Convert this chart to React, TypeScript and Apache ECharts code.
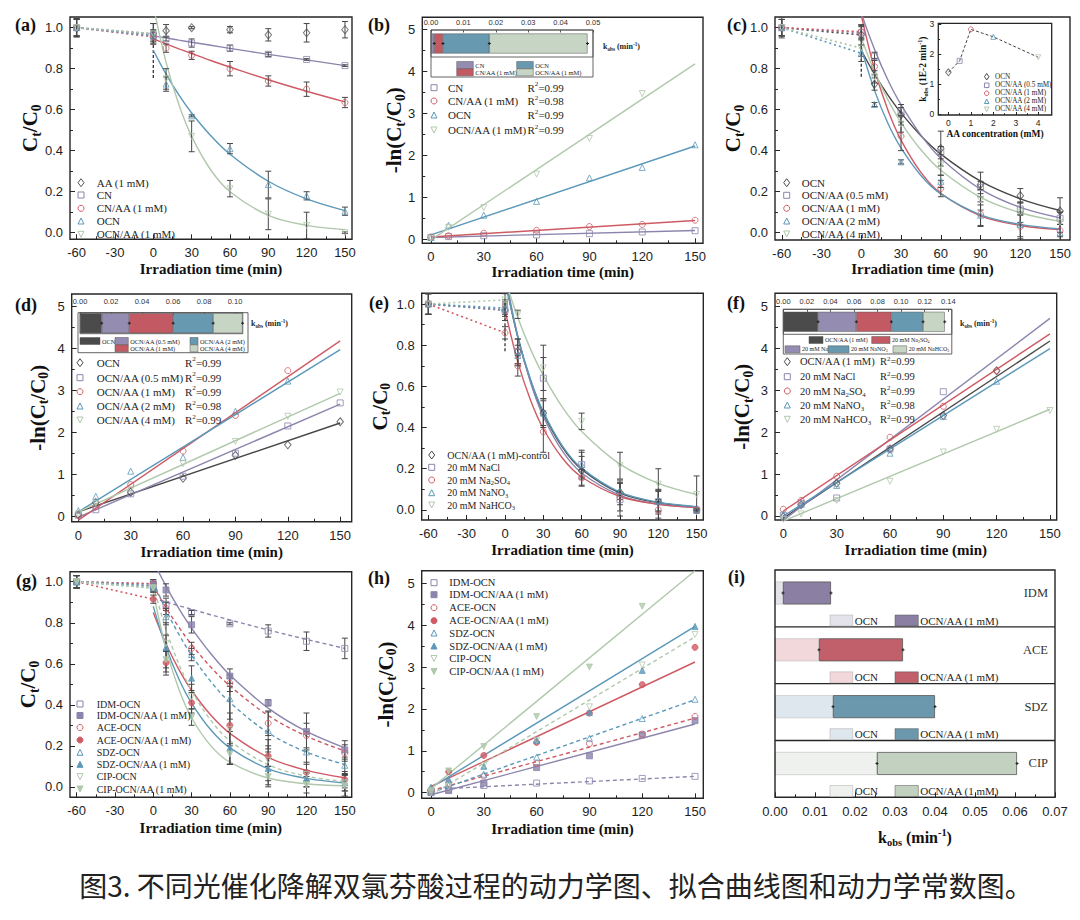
import React, { useEffect, useRef } from "react";
import * as echarts from "echarts";

// ---------------- fonts & colours ----------------
const SERIF = '"Liberation Serif", "Times New Roman", serif';
const SANS = '"Liberation Sans", Arial, sans-serif';
const CJK = '"Noto Sans CJK SC", sans-serif';
const AX = "#262626";
const COL = { gray: "#555555", dark: "#474747", purple: "#8b85ad", red: "#cf5a64", blue: "#5b98b9", green: "#b0c8ab" };
const BAR = { dark: "#4b4b4b", purple: "#958db1", red: "#c35a63", blue: "#6799b1", green: "#c7d5c5" };

// ---------------- shared axes / times ----------------
const T_FULL = [-60, 0, 10, 30, 60, 90, 120, 150];
const T_LIN = [0, 10, 30, 60, 90, 120, 150];
const FIT_T = [0, 10, 20, 30, 45, 60, 90, 120, 150];
const LIN_T = [0, 150];
const X_TICKS_FULL = [-60, -30, 0, 30, 60, 90, 120, 150];
const X_MINOR_FULL = [-45, -15, 15, 45, 75, 105, 135];
const X_TICKS_LIN = [0, 30, 60, 90, 120, 150];
const X_MINOR_LIN = [15, 45, 75, 105, 135];
const Y_TICKS_C = [0, 0.2, 0.4, 0.6, 0.8, 1.0];
const Y_MINOR_C = [0.1, 0.3, 0.5, 0.7, 0.9];
const Y_TICKS_LN = [0, 1, 2, 3, 4, 5];
const Y_MINOR_LN = [0.5, 1.5, 2.5, 3.5, 4.5];
const X_TITLE = "Irradiation time (min)";
const CAPTION = "图3. 不同光催化降解双氯芬酸过程的动力学图、拟合曲线图和动力学常数图。";

// ---------------- (a) ----------------
const A_NAMES = ["AA (1 mM)", "CN", "CN/AA (1 mM)", "OCN", "OCN/AA (1 mM)"];
const A_AA = [1.0, 0.97, 0.985, 1.0, 0.99, 0.965, 0.975, 0.99];
const A_AA_ERR = [0.045, 0.05, 0.03, 0.005, 0.015, 0.03, 0.045, 0.04];
const A_CN = [1.0, 0.965, 0.945, 0.925, 0.9, 0.87, 0.845, 0.815];
const A_CN_ERR = [0.045, 0.02, 0.01, 0.02, 0.015, 0.01, 0.004, 0.004];
const A_CNAA = [1.0, 0.955, 0.9, 0.865, 0.8, 0.74, 0.7, 0.635];
const A_CNAA_ERR = [0.04, 0.02, 0.02, 0.02, 0.035, 0.025, 0.035, 0.025];
const A_OCN = [1.0, 0.96, 0.725, 0.57, 0.41, 0.235, 0.18, 0.105];
const A_OCN_ERR = [0.04, 0.03, 0.035, 0.005, 0.025, 0.065, 0.02, 0.02];
const A_OCNAA = [1.0, 0.97, 0.75, 0.47, 0.215, 0.09, 0.035, 0.0];
const A_OCNAA_ERR = [0.04, 0.05, 0.05, 0.075, 0.04, 0.075, 0.065, 0.004];
const A_CN_FIT = [0.96, 0.95, 0.939, 0.929, 0.914, 0.899, 0.87, 0.843, 0.815];
const A_CNAA_FIT = [0.945, 0.921, 0.897, 0.874, 0.84, 0.808, 0.746, 0.69, 0.638];
const A_OCN_FIT = [0.89, 0.773, 0.672, 0.584, 0.473, 0.383, 0.251, 0.165, 0.108];
const A_OCNAA_FIT = [1.105, 0.831, 0.625, 0.47, 0.306, 0.2, 0.085, 0.036, 0.015];
const A_VLINE = [0.755, 1.0];

// ---------------- (b) ----------------
const B_NAMES = ["CN", "CN/AA (1 mM)", "OCN", "OCN/AA (1 mM)"];
const B_R2 = [0.99, 0.98, 0.99, 0.99];
const B_CN = [0.04, 0.06, 0.08, 0.1, 0.13, 0.17, 0.2];
const B_CNAA = [0.05, 0.08, 0.14, 0.21, 0.3, 0.35, 0.45];
const B_OCN = [0.04, 0.33, 0.57, 0.9, 1.46, 1.71, 2.25];
const B_OCNAA = [0.02, 0.28, 0.75, 1.55, 2.4, 3.47];
const B_CN_FIT = [0.04, 0.205];
const B_CNAA_FIT = [0.05, 0.445];
const B_OCN_FIT = [0.1, 2.22];
const B_OCNAA_FIT = [-0.02, 4.18];
const B_K = [0.001, 0.0027, 0.0143, 0.0303];
const B_K_TICKS = [0, 0.01, 0.02, 0.03, 0.04, 0.05];

// ---------------- (c) ----------------
const C_NAMES = ["OCN", "OCN/AA (0.5 mM)", "OCN/AA (1 mM)", "OCN/AA (2 mM)", "OCN/AA (4 mM)"];
const C_OCN = [1.0, 0.965, 0.725, 0.575, 0.41, 0.235, 0.18, 0.105];
const C_OCN_ERR = [0.04, 0.05, 0.03, 0.05, 0.085, 0.06, 0.035, 0.065];
const C_05 = [1.0, 0.975, 0.86, 0.59, 0.39, 0.22, 0.115, 0.07];
const C_05_ERR = [0.04, 0.03, 0.02, 0.02, 0.03, 0.03, 0.03, 0.03];
const C_1 = [1.0, 0.98, 0.81, 0.47, 0.215, 0.09, 0.03, 0.01];
const C_1_ERR = [0.04, 0.03, 0.04, 0.07, 0.04, 0.06, 0.06, 0.03];
const C_2 = [1.0, 0.875, 0.625, 0.345, 0.25, 0.085, 0.04, 0.0];
const C_2_ERR = [0.05, 0.04, 0.01, 0.01, 0.03, 0.05, 0.06, 0.04];
const C_4 = [1.0, 0.9, 0.76, 0.53, 0.33, 0.16, 0.1, 0.05];
const C_4_ERR = [0.04, 0.04, 0.03, 0.04, 0.05, 0.05, 0.05, 0.05];
const C_OCN_FIT = [0.89, 0.773, 0.672, 0.584, 0.473, 0.383, 0.251, 0.165, 0.108];
const C_05_FIT = [1.07, 0.894, 0.746, 0.624, 0.476, 0.363, 0.212, 0.123, 0.072];
const C_1_FIT = [1.06, 0.797, 0.599, 0.451, 0.294, 0.192, 0.082, 0.035, 0.015];
const C_2_FIT = [0.9, 0.694, 0.535, 0.413, 0.279, 0.189, 0.087, 0.04, 0.018];
const C_4_FIT = [0.95, 0.786, 0.65, 0.537, 0.404, 0.304, 0.172, 0.097, 0.055];
const C_VLINE = [0.76, 0.99];
const C_AA_CONC = [0, 0.5, 1, 2, 4];
const C_INSET_K = [1.4, 1.78, 2.83, 2.58, 1.9];

// ---------------- (d) ----------------
const D_R2 = [0.99, 0.99, 0.99, 0.98, 0.99];
const D_OCN = [0.03, 0.32, 0.57, 0.9, 1.45, 1.7, 2.25];
const D_05 = [0.02, 0.15, 0.53, 0.95, 1.5, 2.15, 2.7];
const D_1 = [0.02, 0.22, 0.75, 1.55, 2.4, 3.47];
const D_2 = [0.13, 0.47, 1.07, 1.4, 2.5, 3.22];
const D_4 = [0.05, 0.3, 0.62, 1.25, 1.78, 2.38, 2.96];
const D_OCN_FIT = [0.1, 2.22];
const D_05_FIT = [-0.03, 2.67];
const D_1_FIT = [-0.1, 4.18];
const D_2_FIT = [0.1, 3.97];
const D_4_FIT = [0.1, 2.93];
const D_K = [0.014, 0.0178, 0.0283, 0.0258, 0.019];
const D_K_TICKS = [0, 0.02, 0.04, 0.06, 0.08, 0.1];

// ---------------- (e) ----------------
const E_NAMES = ["OCN/AA (1 mM)-control", "20 mM NaCl", "20 mM Na{s|2}SO{s|4}", "20 mM NaNO{s|3}", "20 mM NaHCO{s|3}"];
const E_CTRL = [1.0, 0.97, 0.77, 0.47, 0.19, 0.085, 0.04, 0.0];
const E_CTRL_ERR = [0.05, 0.05, 0.06, 0.07, 0.07, 0.06, 0.06, 0.004];
const E_NACL = [1.0, 0.97, 0.77, 0.64, 0.22, 0.05, 0.04, 0.0];
const E_NACL_ERR = [0.05, 0.03, 0.06, 0.1, 0.06, 0.08, 0.05, 0.005];
const E_NA2SO4 = [1.0, 0.86, 0.7, 0.38, 0.155, 0.065, 0.0, 0.0];
const E_NA2SO4_ERR = [0.05, 0.03, 0.05, 0.1, 0.04, 0.07, 0.04, 0.004];
const E_NANO3 = [1.0, 0.98, 0.75, 0.47, 0.22, 0.09, 0.045, 0.0];
const E_NANO3_ERR = [0.05, 0.03, 0.05, 0.06, 0.07, 0.04, 0.05, 0.004];
const E_NAHCO3 = [1.0, 1.02, 0.95, 0.69, 0.43, 0.215, 0.125, 0.075];
const E_NAHCO3_ERR = [0.05, 0.03, 0.02, 0.11, 0.04, 0.065, 0.075, 0.09];
const E_CTRL_FIT = [1.12, 0.838, 0.627, 0.469, 0.304, 0.197, 0.082, 0.035, 0.014];
const E_NACL_FIT = [1.15, 0.843, 0.619, 0.454, 0.285, 0.179, 0.071, 0.028, 0.011];
const E_NA2SO4_FIT = [0.97, 0.719, 0.533, 0.394, 0.251, 0.16, 0.065, 0.027, 0.011];
const E_NANO3_FIT = [1.12, 0.842, 0.633, 0.476, 0.31, 0.203, 0.086, 0.037, 0.016];
const E_NAHCO3_FIT = [1.12, 0.935, 0.781, 0.653, 0.498, 0.381, 0.222, 0.129, 0.075];
const E_VLINE = [0.77, 0.97];

// ---------------- (f) ----------------
const F_NAMES = ["OCN/AA (1 mM)", "20 mM NaCl", "20 mM Na{s|2}SO{s|4}", "20 mM NaNO{s|3}", "20 mM NaHCO{s|3}"];
const F_R2 = [0.99, 0.99, 0.99, 0.98, 0.99];
const F_CTRL = [-0.02, 0.27, 0.78, 1.6, 2.4, 3.47];
const F_NACL = [0.02, 0.3, 0.43, 1.6, 2.97];
const F_NA2SO4 = [0.16, 0.37, 0.95, 1.88, 2.62, 3.47];
const F_NANO3 = [0.05, 0.28, 0.73, 1.5, 2.38, 3.22];
const F_NAHCO3 = [-0.08, 0.05, 0.37, 0.83, 1.53, 2.07, 2.52];
const F_CTRL_FIT = [-0.05, 4.18];
const F_NACL_FIT = [-0.1, 4.72];
const F_NA2SO4_FIT = [0.12, 4.35];
const F_NANO3_FIT = [0.0, 4.0];
const F_NAHCO3_FIT = [-0.12, 2.55];
const F_K = [0.0295, 0.0325, 0.0297, 0.0269, 0.0184];
const F_K_TICKS = [0, 0.02, 0.04, 0.06, 0.08, 0.1, 0.12, 0.14];

// ---------------- (g) ----------------
const G_NAMES = ["IDM-OCN", "IDM-OCN/AA (1 mM)", "ACE-OCN", "ACE-OCN/AA (1 mM)", "SDZ-OCN", "SDZ-OCN/AA (1 mM)", "CIP-OCN", "CIP-OCN/AA (1 mM)"];
const G_IDM = [1.0, 0.98, 0.89, 0.85, 0.795, 0.76, 0.71, 0.675];
const G_IDM_ERR = [0.03, 0.02, 0.03, 0.01, 0.005, 0.03, 0.045, 0.05];
const G_IDM_AA = [1.0, 0.99, 0.96, 0.79, 0.54, 0.41, 0.27, 0.18];
const G_IDM_AA_ERR = [0.03, 0.02, 0.03, 0.04, 0.035, 0.015, 0.09, 0.045];
const G_ACE = [1.0, 0.99, 0.87, 0.675, 0.505, 0.31, 0.25, 0.165];
const G_ACE_ERR = [0.03, 0.02, 0.03, 0.03, 0.04, 0.06, 0.06, 0.04];
const G_ACE_AA = [1.0, 0.915, 0.605, 0.41, 0.3, 0.15, 0.07, 0.035];
const G_ACE_AA_ERR = [0.03, 0.02, 0.06, 0.05, 0.19, 0.05, 0.04, 0.04];
const G_SDZ = [1.0, 0.97, 0.83, 0.645, 0.43, 0.275, 0.17, 0.105];
const G_SDZ_ERR = [0.03, 0.02, 0.04, 0.03, 0.1, 0.09, 0.1, 0.04];
const G_SDZ_AA = [1.0, 0.98, 0.68, 0.53, 0.19, 0.09, 0.04, 0.02];
const G_SDZ_AA_ERR = [0.03, 0.02, 0.12, 0.06, 0.08, 0.08, 0.04, 0.04];
const G_CIP = [1.0, 0.97, 0.7, 0.44, 0.28, 0.13, 0.06, 0.02];
const G_CIP_ERR = [0.03, 0.02, 0.04, 0.06, 0.08, 0.1, 0.06, 0.04];
const G_CIP_AA = [1.0, 0.97, 0.62, 0.34, 0.16, 0.05, 0.01, 0.005];
const G_CIP_AA_ERR = [0.03, 0.02, 0.04, 0.04, 0.05, 0.05, 0.04, 0.05];
const G_IDM_FIT = [0.92, 0.901, 0.883, 0.866, 0.839, 0.814, 0.765, 0.719, 0.675];
const G_IDM_AA_FIT = [1.1, 0.979, 0.87, 0.774, 0.65, 0.545, 0.384, 0.27, 0.19];
const G_ACE_FIT = [0.98, 0.873, 0.779, 0.694, 0.584, 0.492, 0.348, 0.247, 0.175];
const G_ACE_AA_FIT = [0.85, 0.698, 0.573, 0.471, 0.35, 0.261, 0.144, 0.08, 0.044];
const G_SDZ_FIT = [1.0, 0.862, 0.744, 0.642, 0.514, 0.412, 0.264, 0.169, 0.109];
const G_SDZ_AA_FIT = [0.88, 0.681, 0.527, 0.408, 0.278, 0.19, 0.088, 0.041, 0.019];
const G_CIP_FIT = [0.98, 0.767, 0.6, 0.47, 0.325, 0.225, 0.108, 0.052, 0.025];
const G_CIP_AA_FIT = [0.95, 0.673, 0.477, 0.337, 0.201, 0.12, 0.043, 0.015, 0.005];

// ---------------- (h) ----------------
const H_IDM = [0.02, 0.07, 0.17, 0.23, 0.28, 0.34, 0.39];
const H_IDM_AA = [0.0, 0.05, 0.23, 0.6, 0.88, 1.38, 1.72];
const H_ACE = [0.05, 0.22, 0.4, 0.7, 1.17, 1.4, 1.82];
const H_ACE_AA = [0.08, 0.5, 0.89, 1.2, 1.9, 2.58, 3.47];
const H_SDZ = [0.03, 0.18, 0.44, 0.85, 1.3, 1.77, 2.23];
const H_SDZ_AA = [0.13, 0.32, 0.63, 1.25, 1.92, 2.92, 3.97];
const H_CIP = [0.0, 0.15, 0.65, 1.25, 2.05, 3.05, 3.78];
const H_CIP_AA = [0.05, 0.52, 1.1, 1.82, 3.0, 4.45];
const H_IDM_FIT = [0.08, 0.39];
const H_IDM_AA_FIT = [-0.05, 1.64];
const H_ACE_FIT = [0.05, 1.78];
const H_ACE_AA_FIT = [0.15, 3.12];
const H_SDZ_FIT = [0.0, 2.22];
const H_SDZ_AA_FIT = [0.12, 3.97];
const H_CIP_FIT = [-0.05, 3.72];
const H_CIP_AA_FIT = [0.1, 5.3];

// ---------------- (i) ----------------
const I_CATS = ["IDM", "ACE", "SDZ", "CIP"];
const I_K_OCN = [0.002, 0.011, 0.0145, 0.0255];
const I_K_AA = [0.012, 0.021, 0.0255, 0.035];
const I_TICKS = [0, 0.01, 0.02, 0.03, 0.04, 0.05, 0.06, 0.07];
const I_MINOR = [0.005, 0.015, 0.025, 0.035, 0.045, 0.055, 0.065];
const I_LIGHT = ["#e4e2ea", "#f3d8db", "#dfe7ee", "#eef1ee"];
const I_DARK = ["#8b80a3", "#c1606a", "#6c98ae", "#c3d1c1"];
const I_LEG = ["OCN", "OCN/AA (1 mM)"];

function buildOption() {
  const grid: any[] = [], xAxis: any[] = [], yAxis: any[] = [], series: any[] = [], els: any[] = [];

  const nameStyle = (fs: number) => ({
    fontFamily: SERIF, fontWeight: "bold", fontSize: fs, color: "#111", lineHeight: fs * 1.25,
    rich: {
      s: { fontFamily: SERIF, fontWeight: "bold", fontSize: fs * 0.65, color: "#111", verticalAlign: "bottom", lineHeight: fs * 0.7 },
      u: { fontFamily: SERIF, fontWeight: "bold", fontSize: fs * 0.65, color: "#111", verticalAlign: "top", lineHeight: fs * 0.7 },
    },
  });

  function addAxes(gi: number, c: any, dir: string) {
    const arr = dir === "x" ? xAxis : yAxis;
    const idx = arr.length;
    const common = { gridIndex: gi, type: "value", min: c.min, max: c.max, position: c.pos, splitLine: { show: false }, axisLine: { show: false, onZero: false } };
    arr.push({
      ...common,
      axisTick: { show: true, inside: true, length: c.tl ?? 5, customValues: c.ticks, lineStyle: { color: AX, width: 1 } },
      axisLabel: { show: true, customValues: c.ticks, formatter: c.fmt, margin: c.margin ?? 7, fontFamily: SANS, fontSize: c.fs ?? 13, color: "#1e1e1e" },
      name: c.name ?? "", nameLocation: "middle", nameGap: c.gap ?? 20, nameRotate: dir === "y" ? 90 : 0, nameMoveOverlap: false,
      nameTextStyle: nameStyle(c.nfs ?? 15),
    });
    if (c.minor) arr.push({ ...common, axisTick: { show: true, inside: true, length: (c.tl ?? 5) * 0.6, customValues: c.minor, lineStyle: { color: AX, width: 1 } }, axisLabel: { show: false } });
    return idx;
  }

  function panel(box: number[], xc: any, yc: any, bg = "transparent", bw = 1.4) {
    const gi = grid.length;
    grid.push({ left: box[0], top: box[1], width: box[2] - box[0], height: box[3] - box[1], show: true, borderColor: AX, borderWidth: bw, backgroundColor: bg, containLabel: false, outerBoundsMode: "none" });
    const xi = addAxes(gi, { pos: "bottom", ...xc }, "x");
    const yi = addAxes(gi, { pos: "left", ...yc }, "y");
    return { xi, yi };
  }

  const pts = (xs: number[], ys: number[]) => ys.map((y, i) => [xs[i], y]);
  const symOf = (s: string) => (s === "tri" || s === "triDown" ? "triangle" : s);
  const rotOf = (s: string) => (s === "triDown" ? 180 : 0);

  function line(ax: any, xs: number[], ys: number[], color: string, type: any = "solid", width = 1.4, smooth = false) {
    series.push({ type: "line", xAxisIndex: ax.xi, yAxisIndex: ax.yi, data: pts(xs, ys), showSymbol: false, symbol: "none", smooth: smooth ? 0.35 : false, lineStyle: { color, width, type }, silent: true, z: 3, clip: true });
  }
  function scat(ax: any, xs: number[], ys: number[], sp: any, size = 6) {
    series.push({
      type: "scatter", xAxisIndex: ax.xi, yAxisIndex: ax.yi, data: pts(xs, ys), symbol: symOf(sp.sym), symbolRotate: rotOf(sp.sym),
      symbolSize: sp.sym === "diamond" ? [size + 0.5, size + 2] : size,
      itemStyle: { color: sp.filled ? sp.color : "rgba(255,255,255,0)", borderColor: sp.color, borderWidth: 1 }, silent: true, z: 5,
    });
  }
  function errs(ax: any, xs: number[], ys: number[], es: number[], color = "#474747") {
    series.push({
      type: "custom", xAxisIndex: ax.xi, yAxisIndex: ax.yi, data: ys.map((y, i) => [xs[i], y, es[i]]), encode: { x: 0, y: 1 }, silent: true, z: 4, clip: true,
      renderItem: (_p: any, api: any) => {
        const x = api.value(0), y = api.value(1), e = api.value(2);
        const a = api.coord([x, y + e]), b = api.coord([x, y - e]);
        const st = { stroke: color, lineWidth: 1 };
        return {
          type: "group", children: [
            { type: "line", shape: { x1: a[0], y1: a[1], x2: b[0], y2: b[1] }, style: st },
            { type: "line", shape: { x1: a[0] - 3, y1: a[1], x2: a[0] + 3, y2: a[1] }, style: st },
            { type: "line", shape: { x1: b[0] - 3, y1: b[1], x2: b[0] + 3, y2: b[1] }, style: st },
          ],
        };
      },
    });
  }
  function hErr(xi: number, yi: number, vals: number[]) {
    series.push({
      type: "custom", xAxisIndex: xi, yAxisIndex: yi, data: vals.map((v) => [v, 0]), encode: { x: 0, y: 1 }, silent: true, z: 8,
      renderItem: (_p: any, api: any) => {
        const p = api.coord([api.value(0), 0]);
        const st = { stroke: "#222", lineWidth: 1 };
        return {
          type: "group", children: [
            { type: "line", shape: { x1: p[0] - 1.5, y1: p[1], x2: p[0] + 1.5, y2: p[1] }, style: st },
            { type: "line", shape: { x1: p[0], y1: p[1] - 1.5, x2: p[0], y2: p[1] + 1.5 }, style: st },
          ],
        };
      },
    });
  }

  function mk(sp: any, cx: number, cy: number, s = 6) {
    const h = s / 2;
    const style = { fill: sp.filled ? sp.color : "none", stroke: sp.color, lineWidth: 1 };
    const base = { silent: true, z: 20 };
    switch (sp.sym) {
      case "circle": return { ...base, type: "circle", shape: { cx, cy, r: h }, style };
      case "rect": return { ...base, type: "rect", shape: { x: cx - h, y: cy - h, width: s, height: s }, style };
      case "diamond": return { ...base, type: "polygon", shape: { points: [[cx, cy - h - 1], [cx + h, cy], [cx, cy + h + 1], [cx - h, cy]] }, style };
      case "tri": return { ...base, type: "polygon", shape: { points: [[cx, cy - h], [cx + h, cy + h], [cx - h, cy + h]] }, style };
      default: return { ...base, type: "polygon", shape: { points: [[cx - h, cy - h], [cx + h, cy - h], [cx, cy + h]] }, style };
    }
  }
  function txt(x: number, y: number, text: string, fs: number, o: any = {}) {
    const fw = o.fw ?? "normal", fill = o.fill ?? "#1e1e1e", ff = o.ff ?? SERIF;
    const sub = { fontFamily: ff, fontWeight: fw, fontSize: fs * 0.65, fill, verticalAlign: "bottom", lineHeight: fs * 0.7 };
    return {
      type: "text", x, y, silent: true, z: 20,
      style: { text, fontFamily: ff, fontWeight: fw, fontSize: fs, fill, align: o.align ?? "left", verticalAlign: "middle", lineHeight: fs * 1.25, rich: { s: sub, u: { ...sub, verticalAlign: "top" } } },
    };
  }
  function legend(specs: any[], mx: number, tx: number, rows: number[], fs: number, r2?: number[], r2x?: number) {
    specs.forEach((sp, i) => {
      els.push(mk(sp, mx, rows[i], sp.ms ?? 6));
      els.push(txt(tx, rows[i], sp.label, fs));
      if (r2 && r2x) els.push(txt(r2x, rows[i], `R{u|2}=${r2[i].toFixed(2)}`, fs));
    });
  }
  function swatch(x: number, y: number, w: number, h: number, color: string, label: string, fs: number, stroke = "#555") {
    els.push({ type: "rect", silent: true, z: 20, shape: { x, y: y - h / 2, width: w, height: h }, style: { fill: color, stroke, lineWidth: 0.5 } });
    els.push(txt(x + w + 2, y, label, fs));
  }
  function box(x: number, y: number, w: number, h: number, lw = 0.9, stroke = "#555") {
    els.push({ type: "rect", silent: true, z: 15, shape: { x, y, width: w, height: h }, style: { fill: "none", stroke, lineWidth: lw } });
  }

  function cPanel(bx: number[], xr: number[], yr: number[], specs: any[], o: any) {
    const ax = panel(bx,
      { min: xr[0], max: xr[1], ticks: X_TICKS_FULL, minor: X_MINOR_FULL, fmt: (v: number) => String(v), name: X_TITLE, gap: o.xgap },
      { min: yr[0], max: yr[1], ticks: Y_TICKS_C, minor: Y_MINOR_C, fmt: (v: number) => v.toFixed(1), name: "C{s|t}/C{s|0}", gap: o.ygap, nfs: 21 });
    specs.forEach((sp) => line(ax, T_FULL.slice(0, 2), sp.ys.slice(0, 2), sp.color, [2, 3], 1.6));
    if (o.vline) line(ax, [0, 0], o.vline, "#333", [3, 2], 1.3);
    specs.forEach((sp) => { if (sp.fit) line(ax, FIT_T, sp.fit, sp.color, sp.dash ? [4, 3] : "solid", 1.4, true); });
    specs.forEach((sp) => errs(ax, T_FULL, sp.ys, sp.err));
    specs.forEach((sp) => scat(ax, T_FULL, sp.ys, sp));
    return ax;
  }
  function lPanel(bx: number[], xr: number[], yr: number[], specs: any[], o: any) {
    const ax = panel(bx,
      { min: xr[0], max: xr[1], ticks: X_TICKS_LIN, minor: X_MINOR_LIN, fmt: (v: number) => String(v), name: X_TITLE, gap: o.xgap },
      { min: yr[0], max: yr[1], ticks: Y_TICKS_LN, minor: Y_MINOR_LN, fmt: (v: number) => String(v), name: "-ln(C{s|t}/C{s|0})", gap: o.ygap, nfs: 21 });
    specs.forEach((sp) => line(ax, LIN_T, sp.fit, sp.color, sp.dash ? [4, 3] : "solid", 1.4));
    specs.forEach((sp) => scat(ax, T_LIN.slice(0, sp.ys.length), sp.ys, sp));
    return ax;
  }
  function barInset(l: number, t: number, w: number, h: number, max: number, ticks: number[], vals: number[], colors: string[], margin: number) {
    const gi = grid.length;
    grid.push({ left: l, top: t, width: w, height: h, show: true, borderColor: "#555", borderWidth: 0.9, backgroundColor: "#fff", containLabel: false, outerBoundsMode: "none" });
    const xi = xAxis.length;
    xAxis.push({
      type: "value", gridIndex: gi, position: "top", min: 0, max, splitLine: { show: false }, axisLine: { show: false, onZero: false },
      axisTick: { show: true, inside: true, length: 2.5, customValues: ticks, lineStyle: { color: "#555" } },
      axisLabel: { customValues: ticks, formatter: (v: number) => v.toFixed(2), fontFamily: SANS, fontSize: 7.5, color: "#333", margin },
    });
    const yi = yAxis.length;
    yAxis.push({ type: "category", gridIndex: gi, data: ["k"], show: false });
    vals.forEach((v, i) => series.push({ type: "bar", xAxisIndex: xi, yAxisIndex: yi, stack: "s" + gi, data: [v], barWidth: 20, itemStyle: { color: colors[i], borderColor: "#555", borderWidth: 0.5 }, silent: true, z: 6 }));
    let c = 0;
    hErr(xi, yi, vals.map((v) => (c += v)));
  }

  // ============ (a) ============
  const aSpecs = [
    { label: A_NAMES[0], ys: A_AA, err: A_AA_ERR, fit: null, sym: "diamond", color: COL.gray },
    { label: A_NAMES[1], ys: A_CN, err: A_CN_ERR, fit: A_CN_FIT, sym: "rect", color: COL.purple },
    { label: A_NAMES[2], ys: A_CNAA, err: A_CNAA_ERR, fit: A_CNAA_FIT, sym: "circle", color: COL.red },
    { label: A_NAMES[3], ys: A_OCN, err: A_OCN_ERR, fit: A_OCN_FIT, sym: "tri", color: COL.blue },
    { label: A_NAMES[4], ys: A_OCNAA, err: A_OCNAA_ERR, fit: A_OCNAA_FIT, sym: "triDown", color: COL.green },
  ];
  cPanel([70, 17, 352, 239.3], [-65.2, 155.5], [-0.032, 1.052], aSpecs, { xgap: 20, ygap: 27, vline: A_VLINE });
  legend(aSpecs, 81, 96.7, [182.7, 195, 208.3, 221, 234.3], 11);

  // ============ (b) ============
  const bSpecs = [
    { label: B_NAMES[0], ys: B_CN, fit: B_CN_FIT, sym: "rect", color: COL.purple },
    { label: B_NAMES[1], ys: B_CNAA, fit: B_CNAA_FIT, sym: "circle", color: COL.red },
    { label: B_NAMES[2], ys: B_OCN, fit: B_OCN_FIT, sym: "tri", color: COL.blue },
    { label: B_NAMES[3], ys: B_OCNAA, fit: B_OCNAA_FIT, sym: "triDown", color: COL.green },
  ];
  lPanel([422.3, 17.3, 703, 243.3], [-4.9, 154.5], [-0.1, 5.29], bSpecs, { xgap: 19, ygap: 15 });
  legend(bSpecs, 434, 448, [87.7, 101, 115, 130], 11, B_R2, 527.5);
  const bCols = [BAR.purple, BAR.red, BAR.blue, BAR.green];
  barInset(431, 30, 162, 27, 0.05, B_K_TICKS, B_K, bCols, 4);
  box(431, 30, 162, 47);
  swatch(456.7, 65, 16.6, 7, bCols[0], B_NAMES[0], 6.5);
  swatch(516.7, 65, 16.6, 7, bCols[2], B_NAMES[2], 6.5);
  swatch(456.7, 72.3, 16.6, 7, bCols[1], B_NAMES[1], 6.5);
  swatch(516.7, 72.3, 16.6, 7, bCols[3], B_NAMES[3], 6.5);
  els.push(txt(603, 46.7, "k{s|obs} (min{u|-1})", 8, { fw: "bold" }));

  // ============ (c) ============
  const cSpecs = [
    { label: C_NAMES[0], ys: C_OCN, err: C_OCN_ERR, fit: C_OCN_FIT, sym: "diamond", color: COL.dark },
    { label: C_NAMES[1], ys: C_05, err: C_05_ERR, fit: C_05_FIT, sym: "rect", color: COL.purple },
    { label: C_NAMES[2], ys: C_1, err: C_1_ERR, fit: C_1_FIT, sym: "circle", color: COL.red },
    { label: C_NAMES[3], ys: C_2, err: C_2_ERR, fit: C_2_FIT, sym: "tri", color: COL.blue },
    { label: C_NAMES[4], ys: C_4, err: C_4_ERR, fit: C_4_FIT, sym: "triDown", color: COL.green },
  ];
  cPanel([775, 17, 1070, 240], [-65.1, 157.5], [-0.036, 1.052], cSpecs, { xgap: 20, ygap: 29, vline: C_VLINE });
  legend(cSpecs, 786.7, 801.7, [182.7, 195.3, 208.3, 221, 234], 11);
  const ci = panel([938.3, 23.3, 1051.7, 115],
    { min: -0.45, max: 4.6, ticks: [0, 1, 2, 3, 4], minor: [0.5, 1.5, 2.5, 3.5], fmt: (v: number) => String(v), name: "AA concentration (mM)", gap: 13, fs: 8.5, nfs: 9.5, tl: 3, margin: 3 },
    { min: -0.02, max: 3.03, ticks: [0, 1, 2, 3], minor: [0.5, 1.5, 2.5], fmt: (v: number) => String(v), name: "k{s|obs} (1E-2 min{u|-1})", gap: 9, fs: 8.5, nfs: 9.5, tl: 3, margin: 4 },
    "#fff", 1.3);
  line(ci, C_AA_CONC, C_INSET_K, "#444", [3, 2], 1);
  cSpecs.forEach((sp, i) => scat(ci, [C_AA_CONC[i]], [C_INSET_K[i]], sp, 5));
  legend(cSpecs.map((s) => ({ ...s, ms: 4.5 })), 986.7, 995, [76.7, 85.3, 93.3, 101.3, 109.3], 7.2);

  // ============ (d) ============
  const dSpecs = [
    { label: C_NAMES[0], ys: D_OCN, fit: D_OCN_FIT, sym: "diamond", color: COL.dark },
    { label: C_NAMES[1], ys: D_05, fit: D_05_FIT, sym: "rect", color: COL.purple },
    { label: C_NAMES[2], ys: D_1, fit: D_1_FIT, sym: "circle", color: COL.red },
    { label: C_NAMES[3], ys: D_2, fit: D_2_FIT, sym: "tri", color: COL.blue },
    { label: C_NAMES[4], ys: D_4, fit: D_4_FIT, sym: "triDown", color: COL.green },
  ];
  lPanel([71.7, 294, 351.7, 521.7], [-3.8, 156.6], [-0.136, 5.3], dSpecs, { xgap: 21, ygap: 21 });
  legend(dSpecs, 80, 96.7, [362.7, 377.7, 391.7, 406, 420], 11, D_R2, 185);
  const dCols = [BAR.dark, BAR.purple, BAR.red, BAR.blue, BAR.green];
  barInset(80, 312.7, 162.75, 21, 0.105, D_K_TICKS, D_K, dCols, 7);
  box(78, 312.7, 170, 40);
  swatch(80, 341, 20, 7, dCols[0], C_NAMES[0], 6.3);
  swatch(115, 341, 13.3, 7, dCols[1], C_NAMES[1], 6.3);
  swatch(190, 341, 8, 7, dCols[3], C_NAMES[3], 6.3);
  swatch(115, 348.3, 13.3, 7, dCols[2], C_NAMES[2], 6.3);
  swatch(190, 348.3, 8, 7, dCols[4], C_NAMES[4], 6.3);
  els.push(txt(251, 323.3, "k{s|obs} (min{u|-1})", 8, { fw: "bold" }));

  // ============ (e) ============
  const eSpecs = [
    { label: E_NAMES[0], ys: E_CTRL, err: E_CTRL_ERR, fit: E_CTRL_FIT, sym: "diamond", color: COL.dark },
    { label: E_NAMES[1], ys: E_NACL, err: E_NACL_ERR, fit: E_NACL_FIT, sym: "rect", color: COL.purple },
    { label: E_NAMES[2], ys: E_NA2SO4, err: E_NA2SO4_ERR, fit: E_NA2SO4_FIT, sym: "circle", color: COL.red },
    { label: E_NAMES[3], ys: E_NANO3, err: E_NANO3_ERR, fit: E_NANO3_FIT, sym: "tri", color: COL.blue },
    { label: E_NAMES[4], ys: E_NAHCO3, err: E_NAHCO3_ERR, fit: E_NAHCO3_FIT, sym: "triDown", color: COL.green },
  ];
  cPanel([421.7, 293.3, 703.3, 520], [-65.2, 155.2], [-0.049, 1.052], eSpecs, { xgap: 21, ygap: 29, vline: E_VLINE });
  legend(eSpecs, 431.7, 447.3, [455, 467.3, 480, 492.7, 505], 10);

  // ============ (f) ============
  const fSpecs = [
    { label: F_NAMES[0], ys: F_CTRL, fit: F_CTRL_FIT, sym: "diamond", color: COL.dark },
    { label: F_NAMES[1], ys: F_NACL, fit: F_NACL_FIT, sym: "rect", color: COL.purple },
    { label: F_NAMES[2], ys: F_NA2SO4, fit: F_NA2SO4_FIT, sym: "circle", color: COL.red },
    { label: F_NAMES[3], ys: F_NANO3, fit: F_NANO3_FIT, sym: "tri", color: COL.blue },
    { label: F_NAMES[4], ys: F_NAHCO3, fit: F_NAHCO3_FIT, sym: "triDown", color: COL.green },
  ];
  lPanel([775, 293.3, 1056.7, 520], [-4.7, 153.8], [-0.096, 5.32], fSpecs, { xgap: 21, ygap: 20 });
  legend(fSpecs, 787.3, 800, [361.7, 376.7, 391, 405, 419.3], 10.5, F_R2, 880);
  const fCols = [BAR.dark, BAR.purple, BAR.red, BAR.blue, BAR.green];
  barInset(783.3, 309.3, 168.5, 25, 0.143, F_K_TICKS, F_K, fCols, 4);
  box(783.3, 309.3, 168.5, 44.7);
  swatch(809, 340, 14, 7, fCols[0], F_NAMES[0], 6);
  swatch(871.7, 340, 18.3, 7, fCols[2], F_NAMES[2], 6);
  swatch(785, 349.3, 15, 7, fCols[1], F_NAMES[1], 6);
  swatch(828, 349.3, 21, 7, fCols[3], F_NAMES[3], 6);
  swatch(893, 349.3, 13.7, 7, fCols[4], F_NAMES[4], 6);
  els.push(txt(960, 323.3, "k{s|obs} (min{u|-1})", 8, { fw: "bold" }));

  // ============ (g) ============
  const gSpecs = [
    { label: G_NAMES[0], ys: G_IDM, err: G_IDM_ERR, fit: G_IDM_FIT, sym: "rect", color: COL.purple, dash: true },
    { label: G_NAMES[1], ys: G_IDM_AA, err: G_IDM_AA_ERR, fit: G_IDM_AA_FIT, sym: "rect", color: COL.purple, filled: true },
    { label: G_NAMES[2], ys: G_ACE, err: G_ACE_ERR, fit: G_ACE_FIT, sym: "circle", color: COL.red, dash: true },
    { label: G_NAMES[3], ys: G_ACE_AA, err: G_ACE_AA_ERR, fit: G_ACE_AA_FIT, sym: "circle", color: COL.red, filled: true },
    { label: G_NAMES[4], ys: G_SDZ, err: G_SDZ_ERR, fit: G_SDZ_FIT, sym: "tri", color: COL.blue, dash: true },
    { label: G_NAMES[5], ys: G_SDZ_AA, err: G_SDZ_AA_ERR, fit: G_SDZ_AA_FIT, sym: "tri", color: COL.blue, filled: true },
    { label: G_NAMES[6], ys: G_CIP, err: G_CIP_ERR, fit: G_CIP_FIT, sym: "triDown", color: COL.green, dash: true },
    { label: G_NAMES[7], ys: G_CIP_AA, err: G_CIP_AA_ERR, fit: G_CIP_AA_FIT, sym: "triDown", color: COL.green, filled: true },
  ];
  cPanel([70, 571.7, 351.7, 797.3], [-65.2, 155.4], [-0.051, 1.049], gSpecs, { xgap: 21, ygap: 29 });
  legend(gSpecs, 80, 96.7, [704, 715.5, 727.5, 740, 752.3, 764.3, 776.7, 789], 10);

  // ============ (h) ============
  const hYs = [H_IDM, H_IDM_AA, H_ACE, H_ACE_AA, H_SDZ, H_SDZ_AA, H_CIP, H_CIP_AA];
  const hFits = [H_IDM_FIT, H_IDM_AA_FIT, H_ACE_FIT, H_ACE_AA_FIT, H_SDZ_FIT, H_SDZ_AA_FIT, H_CIP_FIT, H_CIP_AA_FIT];
  const hSpecs = gSpecs.map((sp, i) => ({ ...sp, ys: hYs[i], fit: hFits[i] }));
  lPanel([421.7, 570.7, 703.3, 798.3], [-5.3, 154.7], [-0.134, 5.3], hSpecs, { xgap: 21, ygap: 23 });
  legend(hSpecs, 434, 449.3, [582.7, 594.7, 607.7, 620.7, 633, 646, 658.5, 671.5], 10.5);

  // ============ (i) ============
  const iTop = 570, iStep = 56.83, iL = 775, iW = 280, iBottom = 797.3;
  I_CATS.forEach((cat, k) => {
    const gi = grid.length;
    const top = iTop + k * iStep;
    const last = k === I_CATS.length - 1;
    grid.push({ left: iL, top, width: iW, height: 46, show: false, containLabel: false, outerBoundsMode: "none" });
    const xi = xAxis.length;
    const offset = iBottom - (top + 46);
    xAxis.push({
      type: "value", gridIndex: gi, min: 0, max: 0.07, show: last, position: "bottom", offset, splitLine: { show: false }, axisLine: { show: false, onZero: false },
      axisTick: { show: true, inside: true, length: 5, customValues: I_TICKS, lineStyle: { color: AX } },
      axisLabel: { customValues: I_TICKS, formatter: (v: number) => v.toFixed(2), fontFamily: SANS, fontSize: 13, color: "#1e1e1e", margin: 8 },
      name: last ? "k{s|obs} (min{u|-1})" : "", nameLocation: "middle", nameGap: 30, nameMoveOverlap: false, nameTextStyle: nameStyle(16),
    });
    if (last) xAxis.push({
      type: "value", gridIndex: gi, min: 0, max: 0.07, position: "bottom", offset, splitLine: { show: false }, axisLine: { show: false, onZero: false },
      axisTick: { show: true, inside: true, length: 3, customValues: I_MINOR, lineStyle: { color: AX } }, axisLabel: { show: false },
    });
    const yi = yAxis.length;
    yAxis.push({ type: "category", gridIndex: gi, data: [cat], position: "right", axisLine: { show: false, onZero: false }, axisTick: { show: false }, axisLabel: { inside: true, margin: 7, fontFamily: SERIF, fontSize: 12.5, color: "#333" } });
    series.push({ type: "bar", xAxisIndex: xi, yAxisIndex: yi, stack: "i" + k, data: [I_K_OCN[k]], barWidth: 23, itemStyle: { color: I_LIGHT[k], borderColor: "#bdbdbd", borderWidth: 0.6 }, silent: true, z: 4 });
    series.push({ type: "bar", xAxisIndex: xi, yAxisIndex: yi, stack: "i" + k, data: [I_K_AA[k]], barWidth: 23, itemStyle: { color: I_DARK[k], borderColor: "#555", borderWidth: 0.8 }, silent: true, z: 4 });
    hErr(xi, yi, [I_K_OCN[k], I_K_OCN[k] + I_K_AA[k]]);
    const ly = top + 50.5;
    swatch(830, ly, 22.7, 11, I_LIGHT[k], I_LEG[0], 11, "#aaa");
    swatch(895, ly, 23.3, 11, I_DARK[k], I_LEG[1], 11, "#555");
    if (k > 0) els.push({ type: "line", silent: true, z: 15, shape: { x1: iL, y1: top, x2: iL + iW, y2: top }, style: { stroke: AX, lineWidth: 1.3 } });
  });
  box(iL, iTop, iW, iBottom - iTop, 1.4, AX);

  // ============ panel letters & caption ============
  const letters: [string, number, number][] = [
    ["(a)", 15, 25], ["(b)", 368, 25], ["(c)", 727, 25],
    ["(d)", 15, 305], ["(e)", 369, 303], ["(f)", 727, 303],
    ["(g)", 16, 581], ["(h)", 368, 578], ["(i)", 728, 577],
  ];
  letters.forEach(([t, x, y]) => els.push(txt(x, y, t, 18, { fw: "bold", fill: "#111" })));
  els.push(txt(556, 885, CAPTION, 28, { ff: CJK, align: "center", fill: "#222" }));

  return { animation: false, backgroundColor: "#fff", grid, xAxis, yAxis, series, graphic: { elements: els } };
}

export default function App() {
  const ref = useRef<HTMLDivElement>(null);
  useEffect(() => {
    const chart = echarts.init(ref.current as HTMLDivElement, null, { renderer: "svg" });
    chart.setOption(buildOption() as any);
    return () => chart.dispose();
  }, []);
  return <div ref={ref} style={{ position: "absolute", left: 0, top: 0, width: 1080, height: 920, background: "#fff" }} />;
}
